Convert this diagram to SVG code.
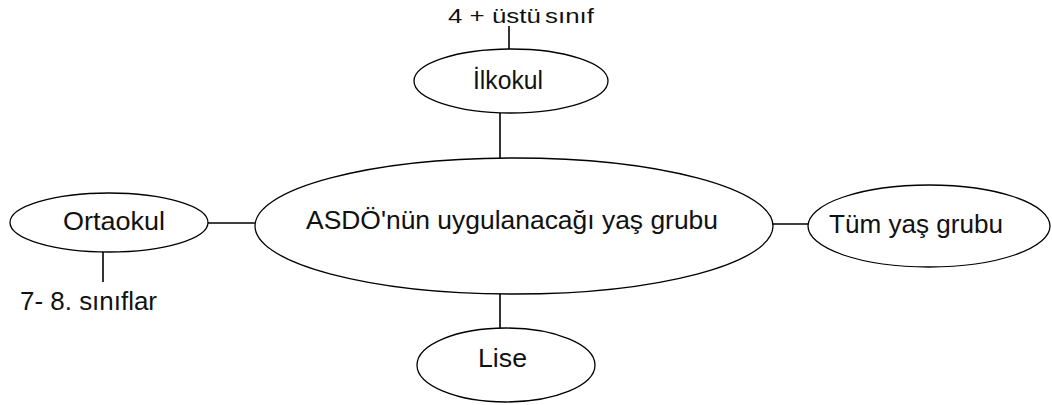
<svg xmlns="http://www.w3.org/2000/svg" width="1052" height="405" viewBox="0 0 1052 405">
<style>
.n{fill:#fff;stroke:#000;stroke-width:1.3}
.c{stroke:#000;stroke-width:1.6;fill:none}
text{font-family:"Liberation Sans",Arial,sans-serif;font-size:25px;fill:#111}
</style>
<rect width="1052" height="405" fill="#fff"/>
<g id="connectors">
<line class="c" x1="509" y1="26" x2="509" y2="49"/>
<line class="c" x1="500" y1="113" x2="500" y2="158"/>
<line class="c" x1="208" y1="223" x2="255" y2="223"/>
<line class="c" x1="773" y1="224" x2="808" y2="224"/>
<line class="c" x1="500" y1="294" x2="500" y2="328"/>
<line class="c" x1="103" y1="252" x2="103" y2="282"/>
</g>
<g id="center">
<ellipse class="n" cx="514" cy="226" rx="259" ry="68"/>
<text x="306" y="229" textLength="412" lengthAdjust="spacingAndGlyphs">ASDÖ'nün uygulanacağı yaş grubu</text>
</g>
<g id="ilkokul">
<ellipse class="n" cx="511" cy="81" rx="97" ry="32"/>
<text x="473" y="89" textLength="70" lengthAdjust="spacingAndGlyphs">İlkokul</text>
</g>
<g id="ilkokul-label">
<text x="448" y="23" style="font-size:21px" textLength="146" lengthAdjust="spacingAndGlyphs">4 + üstü<tspan style="font-size:12px"> </tspan>sınıf</text>
</g>
<g id="ortaokul">
<ellipse class="n" cx="109" cy="222.5" rx="99" ry="29.5"/>
<text x="63" y="230" textLength="102" lengthAdjust="spacingAndGlyphs">Ortaokul</text>
</g>
<g id="ortaokul-label">
<text x="20" y="310" textLength="137" lengthAdjust="spacingAndGlyphs">7- 8. sınıflar</text>
</g>
<g id="tum">
<ellipse class="n" cx="929" cy="226" rx="121" ry="41"/>
<text x="829" y="233" textLength="174" lengthAdjust="spacingAndGlyphs">Tüm yaş grubu</text>
</g>
<g id="lise">
<ellipse class="n" cx="506" cy="365" rx="89" ry="37"/>
<text x="478" y="367" textLength="49" lengthAdjust="spacingAndGlyphs">Lise</text>
</g>
</svg>
